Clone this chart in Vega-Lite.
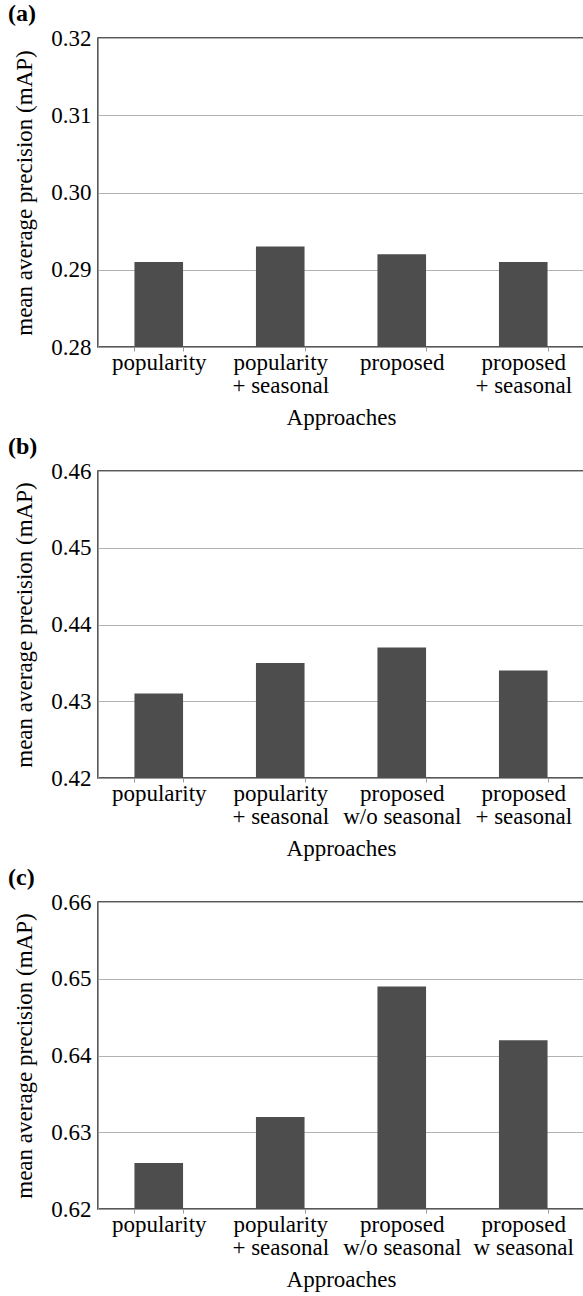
{
  "$schema": "https://vega.github.io/schema/vega-lite/v6.json",
  "padding": {"left": 7, "top": 1, "right": 0, "bottom": 0},
  "background": "white",
  "spacing": 4,
  "data": {
    "values": [
      {"panel": "a", "approach": "popularity", "mAP": 0.291},
      {"panel": "a", "approach": "popularity\n+ seasonal", "mAP": 0.293},
      {"panel": "a", "approach": "proposed", "mAP": 0.292},
      {"panel": "a", "approach": "proposed\n+ seasonal", "mAP": 0.291},
      {"panel": "b", "approach": "popularity", "mAP": 0.431},
      {"panel": "b", "approach": "popularity\n+ seasonal", "mAP": 0.435},
      {"panel": "b", "approach": "proposed\nw/o seasonal", "mAP": 0.437},
      {"panel": "b", "approach": "proposed\n+ seasonal", "mAP": 0.434},
      {"panel": "c", "approach": "popularity", "mAP": 0.626},
      {"panel": "c", "approach": "popularity\n+ seasonal", "mAP": 0.632},
      {"panel": "c", "approach": "proposed\nw/o seasonal", "mAP": 0.649},
      {"panel": "c", "approach": "proposed\nw seasonal", "mAP": 0.642}
    ]
  },
  "vconcat": [
    {
      "title": {"text": "(a)"},
      "width": 486,
      "height": 309,
      "transform": [{"filter": "datum.panel == 'a'"}],
      "mark": {"type": "bar", "color": "#4d4d4d", "clip": true},
      "encoding": {
        "x": {"field": "approach", "type": "nominal", "sort": null, "title": "Approaches",
              "scale": {"paddingInner": 0.6, "paddingOuter": 0.3}},
        "y": {"field": "mAP", "type": "quantitative",
              "scale": {"domain": [0.28, 0.32], "zero": false, "nice": false},
              "axis": {"values": [0.28, 0.29, 0.30, 0.31, 0.32]},
              "title": "mean average precision (mAP)"}
      }
    },
    {
      "title": {"text": "(b)"},
      "width": 486,
      "height": 307,
      "transform": [{"filter": "datum.panel == 'b'"}],
      "mark": {"type": "bar", "color": "#4d4d4d", "clip": true},
      "encoding": {
        "x": {"field": "approach", "type": "nominal", "sort": null, "title": "Approaches",
              "scale": {"paddingInner": 0.6, "paddingOuter": 0.3}},
        "y": {"field": "mAP", "type": "quantitative",
              "scale": {"domain": [0.42, 0.46], "zero": false, "nice": false},
              "axis": {"values": [0.42, 0.43, 0.44, 0.45, 0.46]},
              "title": "mean average precision (mAP)"}
      }
    },
    {
      "title": {"text": "(c)"},
      "width": 486,
      "height": 307,
      "transform": [{"filter": "datum.panel == 'c'"}],
      "mark": {"type": "bar", "color": "#4d4d4d", "clip": true},
      "encoding": {
        "x": {"field": "approach", "type": "nominal", "sort": null, "title": "Approaches",
              "scale": {"paddingInner": 0.6, "paddingOuter": 0.3}},
        "y": {"field": "mAP", "type": "quantitative",
              "scale": {"domain": [0.62, 0.66], "zero": false, "nice": false},
              "axis": {"values": [0.62, 0.63, 0.64, 0.65, 0.66]},
              "title": "mean average precision (mAP)"}
      }
    }
  ],
  "config": {
    "font": "Liberation Serif",
    "view": {"stroke": "#222222", "strokeWidth": 1.5},
    "title": {"font": "Liberation Serif", "fontSize": 24, "fontWeight": "bold", "color": "black",
              "anchor": "start", "frame": "group", "dx": -90, "offset": 1},
    "axis": {
      "labelFont": "Liberation Serif", "labelFontSize": 23, "labelColor": "black",
      "titleFont": "Liberation Serif", "titleFontSize": 23, "titleFontWeight": "normal", "titleColor": "black",
      "domainColor": "#999999", "gridColor": "#b3b3b3", "tickColor": "#999999"
    },
    "axisY": {"format": ".2f", "tickSize": 0, "labelPadding": 7, "titlePadding": 14, "grid": true},
    "axisX": {"labelAngle": 0, "labelExpr": "split(datum.label, '\\n')", "labelBaseline": "middle",
              "labelLineHeight": 23, "tickSize": 4, "tickBand": "extent", "labelPadding": 11,
              "titlePadding": 9, "grid": false, "labelLimit": 200}
  }
}
